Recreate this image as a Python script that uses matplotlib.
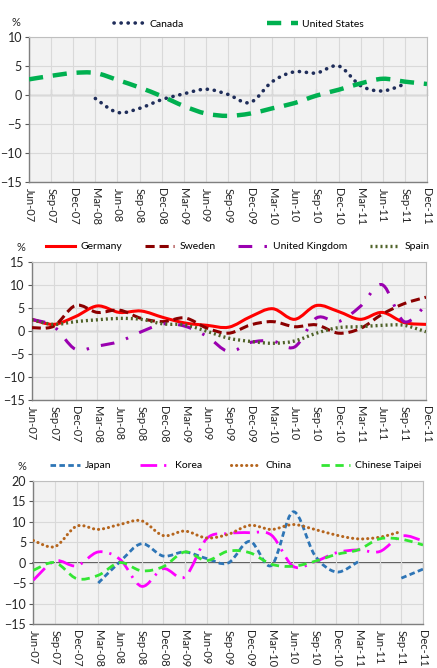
import numpy as np
import matplotlib
matplotlib.use('Agg')
import matplotlib.pyplot as plt
from matplotlib.path import Path
from matplotlib.patches import PathPatch
from matplotlib.lines import Line2D

plt.rcParams['font.family'] = ['Lato', 'DejaVu Sans']

nan = np.nan

quarters = ['Jun-07', 'Sep-07', 'Dec-07', 'Mar-08', 'Jun-08', 'Sep-08', 'Dec-08',
            'Mar-09', 'Jun-09', 'Sep-09', 'Dec-09', 'Mar-10', 'Jun-10', 'Sep-10',
            'Dec-10', 'Mar-11', 'Jun-11', 'Sep-11', 'Dec-11']

# panel 1: North America
canada = [nan, nan, nan, -0.6, -3.0, -2.3, -0.8, 0.2, 1.0, 0.1, -1.3, 2.3, 4.0, 3.8, 5.0, 1.6, 0.7, 1.9, nan]
united_states = [2.7, 3.3, 3.8, 3.8, 2.6, 1.3, -0.2, -1.9, -3.2, -3.6, -3.2, -2.3, -1.4, -0.1, 0.9, 2.0, 2.8, 2.3, 1.9]

# panel 2: Europe
germany = [2.5, 1.4, 3.1, 5.4, 4.0, 4.3, 2.9, 1.7, 1.2, 0.8, 3.1, 4.8, 2.5, 5.5, 4.2, 2.5, 4.0, 1.8, 1.4]
sweden = [0.7, 1.0, 5.5, 4.0, 4.5, 2.7, 2.0, 2.8, 0.6, -0.5, 1.3, 2.0, 0.9, 1.3, -0.5, 0.5, 3.6, 5.9, 7.3]
united_kingdom = [2.5, 1.0, -4.0, -3.3, -2.3, -0.2, 1.5, 1.0, -1.2, -4.5, -2.5, -2.2, -3.5, 2.8, 2.0, 5.3, 10.0, 2.0, 5.7]
spain = [2.4, 1.4, 2.0, 2.4, 2.7, 2.5, 1.5, 1.3, -0.1, -1.6, -2.3, -2.7, -2.2, -0.5, 0.7, 0.9, 1.2, 1.2, -0.2]

# panel 3: Asia
japan = [nan, nan, nan, -5.0, 0.2, 4.6, 1.6, 2.6, 1.0, -0.1, 5.2, -0.7, 12.4, 1.8, -2.3, 0.2, nan, -3.8, -1.6]
korea = [-4.3, 0.4, -0.8, 2.6, 0.8, -5.8, -1.5, -3.5, 5.8, 7.1, 7.3, 6.7, -0.9, 0.2, 2.4, 3.1, 2.7, 6.5, 5.3]
china = [5.4, 3.9, 8.9, 8.1, 9.3, 10.2, 6.6, 7.7, 6.0, 6.9, 9.1, 8.1, 9.3, 8.1, 6.7, 5.8, 6.2, 7.6, nan]
chinese_taipei = [-1.9, 0.0, -3.9, -3.1, 0.0, -2.0, -1.0, 2.6, 0.5, 2.8, 2.4, -0.4, -0.9, 0.3, 2.0, 3.1, 5.8, 5.7, 4.3]


def smooth_path(values):
    """Excel-like smoothed line: Catmull-Rom segments drawn as cubic Beziers, broken at gaps."""
    y = np.asarray(values, dtype=float)
    x = np.arange(len(y), dtype=float)
    verts, codes = [], []
    runs, cur = [], []
    for i in range(len(y)):
        if np.isnan(y[i]):
            if cur:
                runs.append(cur)
            cur = []
        else:
            cur.append(i)
    if cur:
        runs.append(cur)
    for run in runs:
        p = np.column_stack([x[run], y[run]])
        n = len(p)
        if n < 2:
            continue
        verts.append(p[0])
        codes.append(Path.MOVETO)
        for k in range(n - 1):
            p0 = p[k - 1] if k > 0 else p[k]
            p3 = p[k + 2] if k + 2 < n else p[k + 1]
            c1 = p[k] + (p[k + 1] - p0) / 6.0
            c2 = p[k + 1] - (p3 - p[k]) / 6.0
            verts += [c1, c2, p[k + 1]]
            codes += [Path.CURVE4] * 3
    return Path(verts, codes)


def draw_series(ax, values, style):
    patch = PathPatch(smooth_path(values), fill=False, edgecolor=style['color'],
                      linewidth=style['lw'], linestyle=style['ls'],
                      capstyle=style.get('cap', 'butt'), zorder=4)
    ax.add_patch(patch)
    return Line2D([], [], color=style['color'], lw=style['lw'], linestyle=style['ls'],
                  dash_capstyle=style.get('cap', 'butt'))


def setup_axes(ax, ylo, yhi):
    ax.set_facecolor('#f2f2f2')
    ax.set_xlim(0, len(quarters) - 1)
    ax.set_ylim(ylo, yhi)
    ax.set_xticks(range(len(quarters)))
    ax.set_xticklabels(quarters, rotation=-90, fontsize=8, color='#262626')
    ax.set_yticks(np.arange(ylo, yhi + 1, 5))
    ax.tick_params(axis='x', length=0, pad=4)
    ax.tick_params(axis='y', length=3, width=0.8, color='#595959', labelsize=9,
                   labelcolor='#262626', pad=2)
    ax.grid(True, color='#d9d9d9', lw=0.8)
    ax.set_axisbelow(True)
    for side in ['top', 'right']:
        ax.spines[side].set_color('#bfbfbf')
    for side in ['left', 'bottom']:
        ax.spines[side].set_color('#7f7f7f')
        ax.spines[side].set_linewidth(1.0)
    # category axis crosses at zero
    sec = ax.secondary_xaxis(-ylo / (yhi - ylo))
    sec.set_xticks(range(len(quarters)))
    sec.set_xticklabels([])
    sec.tick_params(length=4, width=0.8, color='#404040', direction='out')
    sec.spines['bottom'].set_color('#404040')
    sec.spines['bottom'].set_linewidth(1.2)


fig = plt.figure(figsize=(4.37, 6.68), dpi=100)

W, H = 437.0, 668.0
panels = [
    # left, right, top, bottom (pixels)
    (29, 427, 37, 182),
    (31.7, 426, 261.7, 400),
    (33.3, 423, 480.7, 624),
]
axes = []
for (l, r, t, b) in panels:
    axes.append(fig.add_axes([l / W, 1 - b / H, (r - l) / W, (b - t) / H]))

# panel 1
ax = axes[0]
setup_axes(ax, -15, 10)
h_can = draw_series(ax, canada, dict(color='#1f2d5a', lw=2.6, ls=(0, (0.05, 1.9)), cap='round'))
h_us = draw_series(ax, united_states, dict(color='#00b050', lw=3.2, ls=(0, (3.2, 2.2))))
ax.legend([h_can, h_us], ['Canada', 'United States'], loc='center', bbox_to_anchor=(0.528, 1.09),
          ncol=2, frameon=False, fontsize=7.5, handlelength=3.0, handletextpad=0.4,
          columnspacing=8.0, borderaxespad=0)
fig.text(16 / W, 1 - 22 / H, '%', fontsize=8, ha='center', va='center', color='#262626')

# panel 2
ax = axes[1]
setup_axes(ax, -15, 15)
h_ger = draw_series(ax, germany, dict(color='#ff0000', lw=2.2, ls='-'))
h_swe = draw_series(ax, sweden, dict(color='#8b0000', lw=2.2, ls=(0, (3.0, 1.6))))
h_uk = draw_series(ax, united_kingdom, dict(color='#9a00b0', lw=2.2, ls=(0, (4.5, 4.0, 0.8, 4.0))))
h_spa = draw_series(ax, spain, dict(color='#4f6228', lw=2.4, ls=(0, (0.6, 0.9))))
ax.legend([h_ger, h_swe, h_uk, h_spa], ['Germany', 'Sweden', 'United Kingdom', 'Spain'],
          loc='center', bbox_to_anchor=(0.522, 1.108), ncol=4, frameon=False, fontsize=7.5,
          handlelength=2.8, handletextpad=0.5, columnspacing=2.2, borderaxespad=0)
fig.text(21 / W, 1 - 247 / H, '%', fontsize=8, ha='center', va='center', color='#262626')

# panel 3
ax = axes[2]
setup_axes(ax, -15, 20)
h_jap = draw_series(ax, japan, dict(color='#2e75b6', lw=2.0, ls=(0, (2.0, 1.2))))
h_kor = draw_series(ax, korea, dict(color='#ff00ff', lw=2.0, ls=(0, (6.0, 2.5, 0.8, 2.5))))
h_chn = draw_series(ax, china, dict(color='#b5651d', lw=2.2, ls=(0, (0.05, 1.6)), cap='round'))
h_tpe = draw_series(ax, chinese_taipei, dict(color='#33e633', lw=2.0, ls=(0, (3.0, 2.0))))
ax.legend([h_jap, h_kor, h_chn, h_tpe], ['Japan', 'Korea', 'China', 'Chinese Taipei'],
          loc='center', bbox_to_anchor=(0.52, 1.105), ncol=4, frameon=False, fontsize=7.5,
          handlelength=2.8, handletextpad=0.5, columnspacing=2.8, borderaxespad=0)
fig.text(22 / W, 1 - 466 / H, '%', fontsize=8, ha='center', va='center', color='#262626')

fig.savefig('out.png', dpi=100)
